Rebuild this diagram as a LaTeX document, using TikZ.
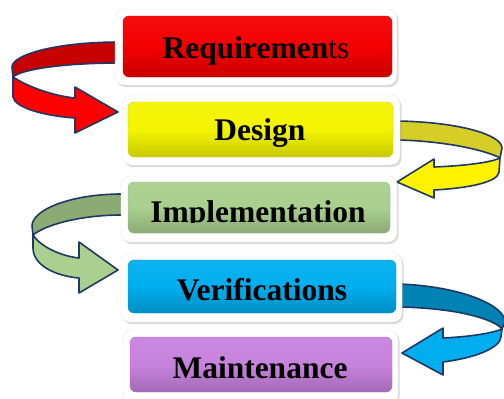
\documentclass[tikz,border=0pt]{standalone}
\usepackage{fontspec}
\setmainfont{Liberation Serif}
\usetikzlibrary{shadows, backgrounds}
\definecolor{navy}{HTML}{1F3864}
\definecolor{reqred}{HTML}{F40000}
\definecolor{desyellow}{HTML}{F4F400}
\definecolor{impgreen}{HTML}{A9D08E}
\definecolor{verblue}{HTML}{00AEEF}
\definecolor{mntpurple}{HTML}{C882DD}
\tikzset{
    frame/.style={fill=white, draw=gray!20, rounded corners=9pt, inner sep=0pt,
        drop shadow={shadow xshift=1.5pt, shadow yshift=-2pt, opacity=.3}},
    stage/.style={rounded corners=6pt, inner sep=0pt, draw=#1!85!black,
        top color=#1!95!white, bottom color=#1!82!black, middle color=#1},
    stagetext/.style={font=\fontsize{31.5}{36}\selectfont\bfseries, anchor=base, inner sep=0pt},
    ribbon/.style={draw=navy, line width=1.6pt, line join=round, fill=#1},
}

\begin{document}
\begin{tikzpicture}[x=1pt, y=-1pt]
    \useasboundingbox (0,0) rectangle (504,399);
    % Stages
    \node[frame, minimum width=282pt, minimum height=76pt](req*f)   at (256,47)    {};
    \node[stage=reqred, minimum width=269pt, minimum height=61pt](req)        at (257.5,46.5) {};
    \node[frame, minimum width=278pt, minimum height=70pt](des*f)   at (261,130)   {};
    \node[stage=desyellow, minimum width=265pt, minimum height=55pt](des)     at (260.5,129.5) {};
    \node[frame, minimum width=276pt, minimum height=66pt](imp*f)   at (259,209)   {};
    \node[stage=impgreen, minimum width=262pt, minimum height=51pt](imp)      at (259,207.5) {};
    \node[frame, minimum width=281pt, minimum height=69pt](ver*f)   at (261.5,287.5) {};
    \node[stage=verblue, minimum width=268pt, minimum height=53pt](ver)       at (262,286.5) {};
    \node[frame, minimum width=275pt, minimum height=74pt](mnt*f)   at (260.5,367) {};
    \node[stage=mntpurple, minimum width=262pt, minimum height=55pt](mnt)     at (261,364.5) {};
    % Labels
    \node[stagetext](req*t) at (256,58)  {Requiremen\mdseries ts};
    \node[stagetext](des*t) at (260,140) {Design};
    \begin{scope}
        \clip (130,180) rectangle (390,222.5);
        \node[stagetext](imp*t) at (258,222) {Implementation};
    \end{scope}
    \node[stagetext](ver*t) at (262,300) {Verifications};
    \node[stagetext](mnt*t) at (260,378) {Maintenance};
    % Ribbons
    \begin{scope}[on background layer]
        \path[ribbon=red!78!black]
            (120,42) .. controls (55,42) and (12,55) .. (12,67) -- (13,77)
            .. controls (20,70) and (60,63) .. (120,63) -- cycle;
        \path[ribbon=red]
            (13,77) .. controls (30,88) and (55,96) .. (75,98) -- (75,87) -- (118,112)
            -- (75,133) -- (75,118) .. controls (45,116) and (15,108) .. (13,97) -- cycle;
        \path[ribbon=yellow!82!black]
            (397,121) .. controls (460,122) and (502,135) .. (502,148) -- (500,158)
            .. controls (490,152) and (450,141) .. (397,140) -- cycle;
        \path[ribbon=yellow]
            (500,158) .. controls (490,163) and (460,166) .. (434,167) -- (434,159) -- (397,182)
            -- (434,198) -- (434,190) .. controls (470,188) and (498,182) .. (499,172) -- cycle;
        \path[ribbon=impgreen!82!black]
            (122,194) .. controls (70,194) and (32,210) .. (32,226) -- (33,235)
            .. controls (45,225) and (80,215) .. (122,215) -- cycle;
        \path[ribbon=impgreen]
            (33,235) .. controls (40,246) and (60,256) .. (79,258) -- (79,242) -- (118,270)
            -- (79,293) -- (79,278) .. controls (55,276) and (33,265) .. (33,248) -- cycle;
        \path[ribbon=verblue!75!black]
            (398,284) .. controls (460,286) and (505,305) .. (505,322) -- (502,329)
            .. controls (495,320) and (460,308) .. (398,307) -- cycle;
        \path[ribbon=verblue]
            (502,329) .. controls (490,334) and (465,337) .. (443,338) -- (443,328) -- (402,353)
            -- (443,375) -- (443,362) .. controls (475,358) and (500,348) .. (501,337) -- cycle;
    \end{scope}
\end{tikzpicture}
\end{document}
